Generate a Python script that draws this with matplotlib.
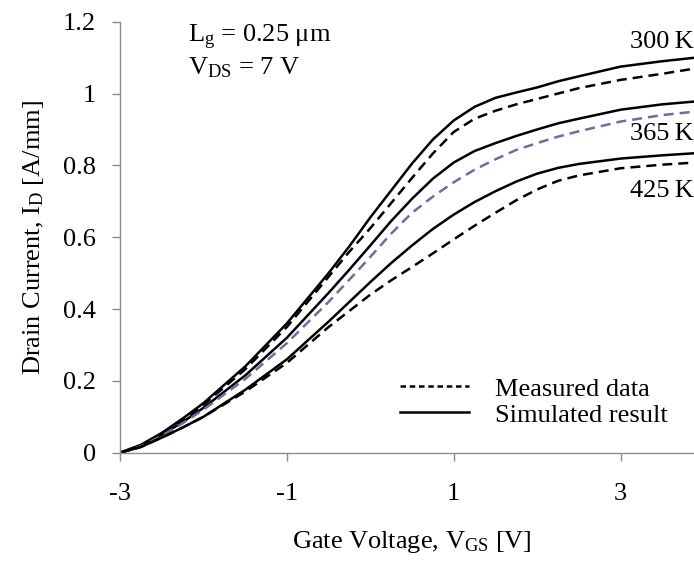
import matplotlib
matplotlib.use("Agg")
import matplotlib.pyplot as plt
from matplotlib.lines import Line2D

# -------------------------
# Data
# -------------------------
vgs = [-3, -2.75, -2.5, -2.25, -2, -1.5, -1, -0.5, -0.25, 0, 0.25, 0.5, 0.75,
       1, 1.25, 1.5, 1.75, 2, 2.25, 2.5, 3, 3.5, 3.9]

sim_300 = [0, 0.022, 0.055, 0.095, 0.138, 0.24, 0.36, 0.50, 0.575, 0.655, 0.73, 0.805, 0.872,
           0.925, 0.963, 0.988, 1.003, 1.017, 1.034, 1.048, 1.075, 1.09, 1.10]
meas_300 = [0, 0.02, 0.052, 0.09, 0.133, 0.232, 0.35, 0.49, 0.56, 0.625, 0.695, 0.765, 0.833,
            0.893, 0.93, 0.952, 0.97, 0.985, 1.0, 1.015, 1.038, 1.055, 1.07]

sim_365 = [0, 0.02, 0.05, 0.085, 0.125, 0.215, 0.32, 0.445, 0.51, 0.577, 0.645, 0.707, 0.763,
           0.808, 0.84, 0.862, 0.882, 0.9, 0.917, 0.93, 0.955, 0.97, 0.978]
meas_365 = [0, 0.018, 0.047, 0.082, 0.12, 0.205, 0.305, 0.42, 0.482, 0.545, 0.61, 0.668, 0.713,
            0.753, 0.788, 0.817, 0.843, 0.862, 0.88, 0.895, 0.922, 0.94, 0.95]

sim_425 = [0, 0.016, 0.042, 0.07, 0.10, 0.175, 0.26, 0.365, 0.42, 0.475, 0.528, 0.577, 0.623,
           0.663, 0.698, 0.728, 0.755, 0.777, 0.793, 0.804, 0.819, 0.828, 0.834]
meas_425 = [0, 0.016, 0.042, 0.07, 0.10, 0.17, 0.25, 0.35, 0.395, 0.44, 0.48, 0.517, 0.555,
            0.594, 0.632, 0.668, 0.703, 0.733, 0.757, 0.772, 0.792, 0.802, 0.808]

temp_labels = ["300\u2009K", "365\u2009K", "425\u2009K"]
temp_label_y = [1.144, 0.888, 0.728]

x_ticks = [-3, -1, 1, 3]
y_ticks = [0, 0.2, 0.4, 0.6, 0.8, 1, 1.2]
y_tick_labels = ["0", "0.2", "0.4", "0.6", "0.8", "1", "1.2"]

# -------------------------
# Style
# -------------------------
plt.rcParams['font.family'] = ['Liberation Serif', 'DejaVu Serif']
plt.rcParams['mathtext.fontset'] = 'custom'
plt.rcParams['mathtext.rm'] = 'Liberation Serif'
plt.rcParams['mathtext.it'] = 'Liberation Serif:italic'

FS = 19
LW = 1.8
GRAY = '#8c8c8c'
PURPLE = '#8064a2'

fig = plt.figure(figsize=(6.94, 5.61), dpi=100)
ax = fig.add_axes([0.1729, 0.193, 1.0 - 0.1729, 0.9613 - 0.193])

dash = (4.0, 2.4)
ax.plot(vgs, sim_300, color='black', lw=LW)
ax.plot(vgs, meas_300, color='black', lw=LW, dashes=dash)
ax.plot(vgs, sim_365, color='black', lw=LW)
ax.plot(vgs, meas_365, color=PURPLE, lw=LW, dashes=dash)
ax.plot(vgs, sim_425, color='black', lw=LW)
ax.plot(vgs, meas_425, color='black', lw=LW, dashes=dash)

ax.set_xlim(-3, 3.88)
ax.set_ylim(0, 1.2)
ax.set_xticks(x_ticks)
ax.set_xticklabels([str(t) for t in x_ticks])
ax.set_yticks(y_ticks)
ax.set_yticklabels(y_tick_labels)

for side in ['top', 'right']:
    ax.spines[side].set_visible(False)
for side in ['left', 'bottom']:
    ax.spines[side].set_color(GRAY)
    ax.spines[side].set_linewidth(1.0)

ax.tick_params(axis='both', direction='out', length=5.5, width=1.0, color=GRAY,
               labelsize=FS, labelcolor='black')
ax.tick_params(axis='x', pad=16)
ax.tick_params(axis='y', pad=12)

ax.set_xlabel(r"Gate Voltage, V$_\mathrm{GS}$ [V]", fontsize=FS)
ax.xaxis.set_label_coords(0.508, -0.176)
ax.set_ylabel(r"Drain Current, I$_\mathrm{D}$ [A/mm]", fontsize=FS, labelpad=12)

# temperature labels at the right edge
for lab, yy in zip(temp_labels, temp_label_y):
    ax.text(3.88, yy, lab, fontsize=FS, ha='right', va='center')

# device parameters
ax.text(-2.185, 1.155, r"L$_\mathrm{g}$ = 0.25 $\mathrm{\mu}$m", fontsize=FS, va='center')
ax.text(-2.185, 1.071, r"V$_\mathrm{DS}$ = 7 V", fontsize=FS, va='center')

handles = [Line2D([], [], color='black', lw=LW, dashes=(2.2, 1.5)),
           Line2D([], [], color='black', lw=LW)]
ax.legend(handles, ["Measured data", "Simulated result"], loc='center left',
          bbox_to_anchor=(0.488, 0.118), frameon=False, fontsize=FS,
          handlelength=2.6, handletextpad=1.0, labelspacing=0.1,
          borderaxespad=0, borderpad=0)

fig.savefig("out.png", dpi=100)
